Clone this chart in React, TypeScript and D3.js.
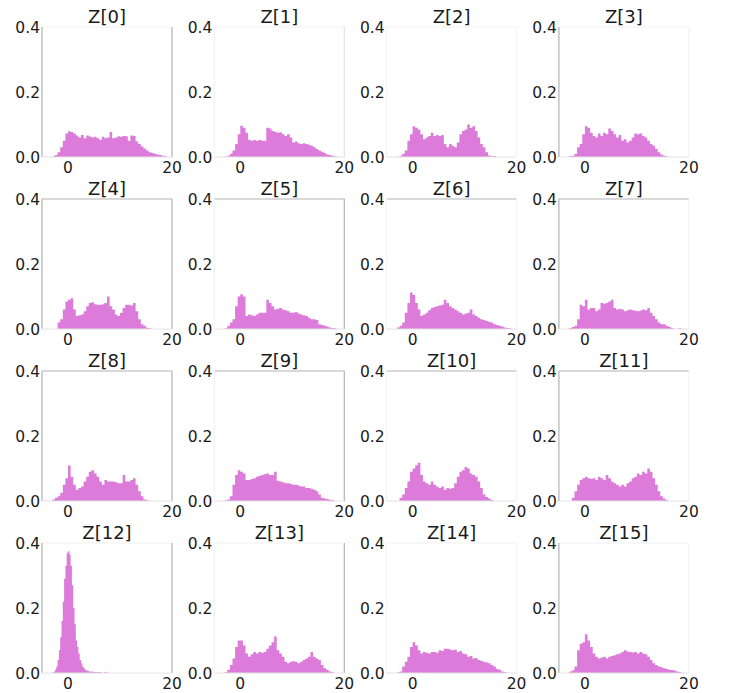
import React from "react"
import * as d3 from "d3"

// histogram densities, one value per bin (bins start at binStart, width binWidth)
const titles = Array.from({ length: 16 }, (_, i) => `Z[${i}]`)
const binStart = [-3, -3, -3, -3, -3, -3, -3, -3, -3, -3, -3, -3, -3, -3, -3, -3]
const binWidth = [0.5, 0.5, 0.5, 0.5, 0.5, 0.5, 0.5, 0.5, 0.5, 0.5, 0.5, 0.5, 0.25, 0.5, 0.5, 0.5]

const z0 = [0.002, 0.006, 0.015, 0.03, 0.05, 0.072, 0.079, 0.077, 0.072, 0.066, 0.06, 0.068, 0.058, 0.066, 0.063, 0.06, 0.062, 0.058, 0.052, 0.062, 0.058, 0.06, 0.077, 0.058, 0.06, 0.064, 0.062, 0.065, 0.064, 0.05, 0.066, 0.065, 0.048, 0.04, 0.032, 0.026, 0.02, 0.015, 0.012, 0.01, 0.008, 0.006, 0.004, 0.002]
const z1 = [0.001, 0.004, 0.01, 0.02, 0.04, 0.07, 0.096, 0.09, 0.075, 0.053, 0.05, 0.052, 0.05, 0.052, 0.05, 0.05, 0.09, 0.088, 0.08, 0.078, 0.075, 0.076, 0.07, 0.065, 0.07, 0.06, 0.045, 0.048, 0.042, 0.04, 0.042, 0.04, 0.038, 0.035, 0.03, 0.025, 0.02, 0.016, 0.012, 0.008, 0.006, 0.004, 0.002, 0.001]
const z2 = [0, 0.004, 0.01, 0.02, 0.05, 0.07, 0.095, 0.09, 0.085, 0.07, 0.055, 0.06, 0.065, 0.075, 0.065, 0.068, 0.065, 0.068, 0.04, 0.03, 0.04, 0.035, 0.03, 0.045, 0.07, 0.08, 0.085, 0.1, 0.09, 0.095, 0.08, 0.06, 0.04, 0.03, 0.015, 0.005, 0.002, 0.003, 0, 0, 0, 0, 0, 0]
const z3 = [0.003, 0.004, 0.01, 0.03, 0.04, 0.07, 0.095, 0.09, 0.075, 0.065, 0.06, 0.072, 0.065, 0.075, 0.07, 0.088, 0.08, 0.07, 0.06, 0.068, 0.05, 0.055, 0.045, 0.05, 0.06, 0.072, 0.07, 0.072, 0.065, 0.06, 0.05, 0.04, 0.035, 0.025, 0.015, 0.008, 0.004, 0.002, 0, 0, 0, 0, 0, 0]
const z4 = [0, 0, 0.02, 0.03, 0.06, 0.085, 0.09, 0.095, 0.06, 0.04, 0.042, 0.045, 0.055, 0.07, 0.08, 0.082, 0.076, 0.075, 0.074, 0.076, 0.08, 0.1, 0.07, 0.06, 0.045, 0.04, 0.05, 0.065, 0.075, 0.075, 0.072, 0.08, 0.055, 0.03, 0.015, 0.01, 0.004, 0.002, 0, 0, 0, 0, 0, 0]
const z5 = [0.002, 0.01, 0.02, 0.03, 0.07, 0.1, 0.107, 0.1, 0.04, 0.045, 0.042, 0.04, 0.045, 0.05, 0.05, 0.05, 0.09, 0.08, 0.07, 0.06, 0.062, 0.065, 0.06, 0.058, 0.055, 0.05, 0.05, 0.052, 0.048, 0.045, 0.042, 0.04, 0.035, 0.03, 0.03, 0.028, 0.015, 0.012, 0.01, 0.008, 0.005, 0.003, 0.002, 0]
const z6 = [0.005, 0.01, 0.02, 0.05, 0.08, 0.112, 0.105, 0.08, 0.06, 0.04, 0.045, 0.05, 0.058, 0.065, 0.068, 0.07, 0.072, 0.075, 0.09, 0.08, 0.07, 0.065, 0.06, 0.055, 0.05, 0.045, 0.048, 0.05, 0.06, 0.045, 0.04, 0.035, 0.03, 0.028, 0.025, 0.022, 0.02, 0.015, 0.012, 0.01, 0.008, 0.005, 0.003, 0.002]
const z7 = [0.003, 0.006, 0.01, 0.03, 0.075, 0.07, 0.09, 0.06, 0.065, 0.065, 0.055, 0.06, 0.08, 0.078, 0.08, 0.085, 0.09, 0.065, 0.06, 0.062, 0.06, 0.055, 0.058, 0.06, 0.058, 0.056, 0.055, 0.057, 0.06, 0.058, 0.065, 0.05, 0.04, 0.03, 0.02, 0.015, 0.015, 0.01, 0.007, 0.003, 0.001, 0, 0.002, 0]
const z8 = [0.005, 0.01, 0.015, 0.025, 0.05, 0.07, 0.109, 0.075, 0.05, 0.035, 0.04, 0.045, 0.06, 0.075, 0.09, 0.095, 0.085, 0.075, 0.06, 0.05, 0.065, 0.06, 0.06, 0.06, 0.058, 0.055, 0.055, 0.08, 0.06, 0.06, 0.065, 0.07, 0.05, 0.03, 0.015, 0.005, 0.002, 0, 0, 0, 0, 0, 0, 0]
const z9 = [0.002, 0.005, 0.015, 0.05, 0.08, 0.095, 0.09, 0.085, 0.065, 0.065, 0.068, 0.07, 0.075, 0.078, 0.08, 0.082, 0.085, 0.08, 0.08, 0.09, 0.062, 0.06, 0.058, 0.055, 0.055, 0.052, 0.05, 0.05, 0.048, 0.045, 0.045, 0.04, 0.04, 0.038, 0.035, 0.03, 0.02, 0.01, 0.008, 0.006, 0.004, 0.003, 0, 0]
const z10 = [0, 0.01, 0.02, 0.04, 0.06, 0.09, 0.1, 0.11, 0.118, 0.08, 0.06, 0.055, 0.05, 0.06, 0.05, 0.045, 0.04, 0.045, 0.035, 0.04, 0.038, 0.04, 0.055, 0.075, 0.09, 0.095, 0.105, 0.1, 0.085, 0.08, 0.075, 0.06, 0.04, 0.02, 0.012, 0.008, 0.003, 0, 0, 0, 0, 0, 0, 0]
const z11 = [0, 0.01, 0.03, 0.05, 0.065, 0.07, 0.075, 0.07, 0.068, 0.07, 0.065, 0.075, 0.07, 0.065, 0.08, 0.07, 0.06, 0.055, 0.05, 0.045, 0.05, 0.045, 0.055, 0.06, 0.07, 0.075, 0.085, 0.08, 0.09, 0.085, 0.1, 0.09, 0.07, 0.05, 0.03, 0.015, 0.008, 0.003, 0, 0, 0, 0, 0, 0]
const z12 = [0.002, 0.004, 0.01, 0.02, 0.04, 0.07, 0.11, 0.16, 0.22, 0.29, 0.33, 0.37, 0.375, 0.365, 0.33, 0.27, 0.2, 0.15, 0.1, 0.08, 0.06, 0.04, 0.03, 0.02, 0.015, 0.01, 0.008, 0.006, 0.005, 0.004, 0.005, 0.004, 0.003, 0.004, 0.003, 0.002, 0.003, 0.002, 0.001, 0.001, 0.002, 0.004, 0.001]
const z13 = [0.003, 0.01, 0.025, 0.045, 0.08, 0.1, 0.1, 0.085, 0.06, 0.05, 0.058, 0.065, 0.06, 0.065, 0.062, 0.065, 0.075, 0.085, 0.095, 0.112, 0.07, 0.06, 0.05, 0.035, 0.03, 0.035, 0.036, 0.035, 0.03, 0.035, 0.04, 0.045, 0.05, 0.065, 0.05, 0.045, 0.04, 0.025, 0.015, 0.01, 0.005, 0.002, 0, 0]
const z14 = [0.002, 0.005, 0.02, 0.035, 0.05, 0.08, 0.095, 0.085, 0.07, 0.06, 0.065, 0.062, 0.06, 0.065, 0.065, 0.062, 0.07, 0.068, 0.075, 0.075, 0.072, 0.07, 0.072, 0.065, 0.068, 0.06, 0.058, 0.05, 0.052, 0.045, 0.046, 0.04, 0.038, 0.035, 0.032, 0.03, 0.025, 0.02, 0.012, 0.01, 0.005, 0.003, 0.001, 0]
const z15 = [0.005, 0.008, 0.02, 0.07, 0.09, 0.095, 0.119, 0.1, 0.08, 0.06, 0.05, 0.045, 0.048, 0.05, 0.045, 0.05, 0.052, 0.055, 0.058, 0.06, 0.065, 0.07, 0.066, 0.065, 0.063, 0.065, 0.06, 0.065, 0.06, 0.058, 0.05, 0.04, 0.03, 0.025, 0.02, 0.018, 0.015, 0.012, 0.01, 0.009, 0.008, 0.005, 0.003, 0.001]

const series = [z0, z1, z2, z3, z4, z5, z6, z7, z8, z9, z10, z11, z12, z13, z14, z15]

const xTicks = [0, 20]
const yTicks = [0, 0.2, 0.4]
const xDomain = [-5, 20]
const yDomain = [0, 0.4]

const dark = "#b3b3b3"
const faint = "#f2f2f2"

// which spines show up darker in each panel: [top, right, bottom, left]
const spineStyle = (row: number, col: number) => {
  const top = row === 1 || row === 2 ? dark : faint
  const left = col === 0 || col === 3 ? dark : faint
  const right = col === 0 || (col === 1 && row > 0) ? dark : col === 1 ? "#e2e2e2" : faint
  const bottom = "#e4e4e4"
  return { top, right, bottom, left }
}

const App = () => {
  const width = 729
  const height = 693
  const panelW = 130
  const panelH = 130
  const left0 = 42
  const top0 = 27
  const stepX = 172.3
  const stepY = 172

  const x = d3.scaleLinear().domain(xDomain).range([0, panelW])
  const y = d3.scaleLinear().domain(yDomain).range([panelH, 0])
  const font = "DejaVu Sans, sans-serif"

  return (
    <svg
      width={width}
      height={height}
      style={{ position: "absolute", left: 0, top: 0, background: "#fff" }}
    >
      {series.map((vals, i) => {
        const row = Math.floor(i / 4)
        const col = i % 4
        const tx = left0 + col * stepX
        const ty = top0 + row * stepY
        const w = binWidth[i]
        const s = binStart[i]
        const pts: [number, number][] = vals.map((v, k) => [s + k * w, v])
        pts.push([s + vals.length * w, vals[vals.length - 1]])
        const area = d3
          .area<[number, number]>()
          .x((d) => x(d[0]))
          .y0(y(0))
          .y1((d) => y(d[1]))
          .curve(d3.curveStepAfter)
        const sp = spineStyle(row, col)
        return (
          <g key={i} transform={`translate(${tx},${ty})`}>
            <line x1={0} x2={panelW} y1={0} y2={0} stroke={sp.top} strokeWidth={1.2} />
            <line x1={panelW} x2={panelW} y1={0} y2={panelH} stroke={sp.right} strokeWidth={1.2} />
            <line x1={0} x2={0} y1={0} y2={panelH} stroke={sp.left} strokeWidth={1.2} />
            <path d={area(pts) || ""} fill="#dc7bda" />
            <line x1={0} x2={panelW} y1={panelH} y2={panelH} stroke={sp.bottom} strokeWidth={1.2} />
            <text
              x={panelW / 2}
              y={-4}
              textAnchor="middle"
              fontFamily={font}
              fontSize={18}
              fill="#1a1a1a"
            >
              {titles[i]}
            </text>
            {yTicks.map((t) => (
              <text
                key={t}
                x={-2}
                y={y(t)}
                dy="0.36em"
                textAnchor="end"
                fontFamily={font}
                fontSize={15.5}
                fill="#1a1a1a"
              >
                {t.toFixed(1)}
              </text>
            ))}
            {xTicks.map((t) => (
              <text
                key={t}
                x={x(t)}
                y={panelH + 16}
                textAnchor="middle"
                fontFamily={font}
                fontSize={15.5}
                fill="#1a1a1a"
              >
                {t}
              </text>
            ))}
          </g>
        )
      })}
    </svg>
  )
}

export default App
